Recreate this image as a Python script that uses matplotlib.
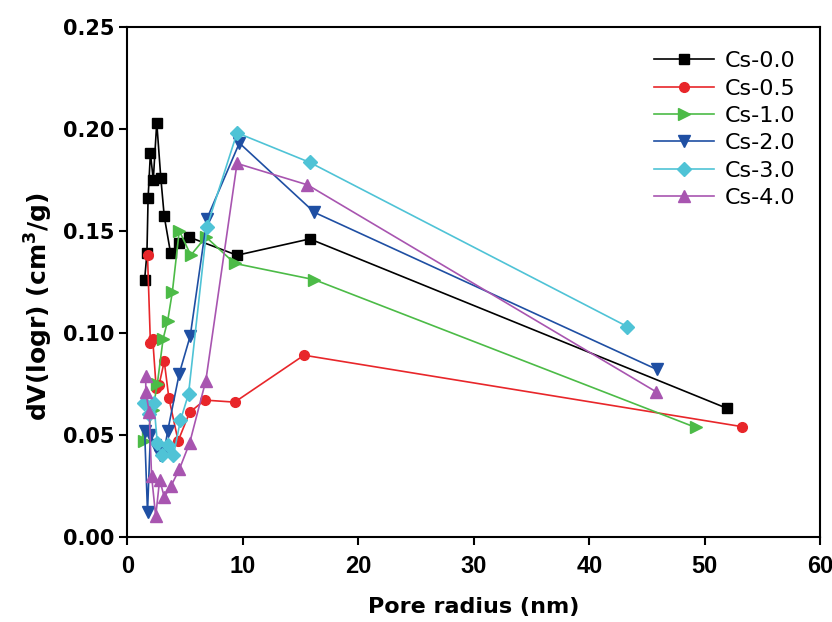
import matplotlib
matplotlib.use("Agg")
import matplotlib.pyplot as plt

plt.rcParams['font.family'] = ['DejaVu Sans']

# pore radius (nm) / dV(logr) per sample
x_cs00 = [1.5, 1.7, 1.8, 2.0, 2.25, 2.55, 2.9, 3.2, 3.75, 4.5, 5.3, 9.5, 15.8, 51.9]
y_cs00 = [0.126, 0.139, 0.166, 0.188, 0.175, 0.203, 0.176, 0.157, 0.139, 0.144, 0.147, 0.138, 0.146, 0.063]

x_cs05 = [1.75, 2.0, 2.2, 2.5, 2.75, 3.2, 3.6, 4.4, 5.4, 6.7, 9.3, 15.3, 53.2]
y_cs05 = [0.138, 0.095, 0.097, 0.073, 0.0745, 0.086, 0.068, 0.047, 0.061, 0.067, 0.066, 0.089, 0.054]

x_cs10 = [1.45, 1.8, 2.2, 2.6, 3.1, 3.5, 3.9, 4.5, 5.5, 6.8, 9.3, 16.2, 49.2]
y_cs10 = [0.047, 0.052, 0.062, 0.075, 0.097, 0.106, 0.120, 0.150, 0.138, 0.147, 0.134, 0.126, 0.0536]

x_cs20 = [1.5, 1.75, 2.0, 2.4, 2.8, 3.2, 3.5, 4.5, 5.45, 6.9, 9.7, 16.2, 45.85]
y_cs20 = [0.052, 0.012, 0.050, 0.045, 0.040, 0.042, 0.052, 0.080, 0.0985, 0.156, 0.193, 0.159, 0.082]

x_cs30 = [1.45, 1.9, 2.3, 2.6, 3.0, 3.5, 4.0, 4.6, 5.3, 6.9, 9.5, 15.8, 43.3]
y_cs30 = [0.0655, 0.060, 0.0655, 0.046, 0.040, 0.045, 0.040, 0.057, 0.070, 0.152, 0.198, 0.1835, 0.103]

x_cs40 = [1.6, 1.6, 1.9, 2.1, 2.46, 2.8, 3.2, 3.77, 4.5, 5.4, 6.8, 9.5, 15.6, 45.8]
y_cs40 = [0.0786, 0.071, 0.061, 0.030, 0.010, 0.028, 0.0195, 0.0247, 0.033, 0.046, 0.0766, 0.183, 0.1725, 0.071]

labels = ['Cs-0.0', 'Cs-0.5', 'Cs-1.0', 'Cs-2.0', 'Cs-3.0', 'Cs-4.0']
series = [(x_cs00, y_cs00), (x_cs05, y_cs05), (x_cs10, y_cs10),
          (x_cs20, y_cs20), (x_cs30, y_cs30), (x_cs40, y_cs40)]
colors = ['black', '#e8262a', '#4cbb47', '#1f4fa3', '#4fc3d6', '#a855b0']
markers = ['s', 'o', '>', 'v', 'D', '^']
sizes = [7, 7, 9, 9, 7, 9]

fig = plt.figure(figsize=(8.32, 6.22), dpi=100)
ax = fig.add_axes([0.153, 0.137, 0.833, 0.820])

for (xs, ys), lab, c, m, s in zip(series, labels, colors, markers, sizes):
    ax.plot(xs, ys, color=c, marker=m, markersize=s, linewidth=1.2, label=lab)

ax.set_xlim(0, 60)
ax.set_ylim(0, 0.25)
ax.set_xticks(range(0, 61, 10))
ax.set_yticks([0.00, 0.05, 0.10, 0.15, 0.20, 0.25])
ax.set_yticklabels(['0.00', '0.05', '0.10', '0.15', '0.20', '0.25'])
ax.tick_params(direction='out', width=1.5, length=6)
ax.tick_params(axis='x', pad=7)
for lab in ax.get_yticklabels():
    lab.set_fontweight('bold')
    lab.set_fontsize(15)
for lab in ax.get_xticklabels():
    lab.set_fontweight('bold')
    lab.set_fontsize(17)
    lab.set_family('Liberation Sans')
for sp in ax.spines.values():
    sp.set_linewidth(1.5)

ax.set_xlabel('Pore radius (nm)', fontsize=16, fontweight='bold', labelpad=14)
ax.set_ylabel('dV(logr) (cm$^{\\mathbf{3}}$/g)', fontsize=18, fontweight='bold')
ax.yaxis.set_label_coords(-0.105, 0.45)

leg = ax.legend(loc='upper right', prop={'size': 16}, frameon=False, handlelength=2.7,
                borderaxespad=0.7, labelspacing=0.33, handletextpad=0.5)

fig.savefig('out.png', dpi=100)
